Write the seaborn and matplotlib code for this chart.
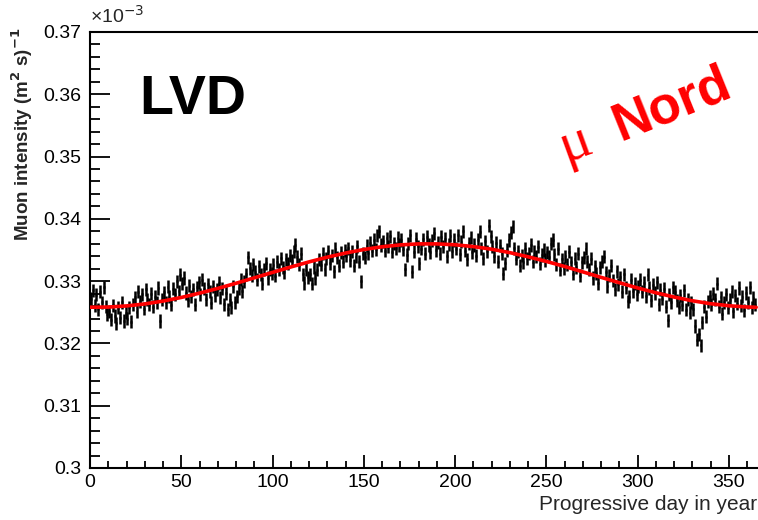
import numpy as np
import pandas as pd
import matplotlib
matplotlib.use("Agg")
import matplotlib.pyplot as plt
from matplotlib.ticker import MultipleLocator
import seaborn as sns

sns.set_theme(style="ticks")
plt.rcParams['font.family'] = ['Liberation Sans', 'DejaVu Sans']

# daily muon intensity, units of 1e-3 (m^2 s)^-1, days 1..365
intensity = [
    0.3272, 0.3285, 0.3261, 0.3278, 0.3255, 0.3283, 0.3266, 0.3290, 0.3259, 0.3247,
    0.3252, 0.3238, 0.3261, 0.3244, 0.3232, 0.3257, 0.3241, 0.3266, 0.3236, 0.3249,
    0.3240, 0.3258, 0.3235, 0.3262, 0.3274, 0.3251, 0.3283, 0.3268, 0.3279, 0.3256,
    0.3287, 0.3271, 0.3262, 0.3280, 0.3259, 0.3275, 0.3266, 0.3289, 0.3236, 0.3270,
    0.3282, 0.3266, 0.3291, 0.3275, 0.3262, 0.3288, 0.3279, 0.3300, 0.3284, 0.3310,
    0.3296, 0.3305, 0.3281, 0.3269, 0.3293, 0.3276, 0.3287, 0.3262, 0.3290, 0.3298,
    0.3279, 0.3302, 0.3288, 0.3271, 0.3295, 0.3284, 0.3265, 0.3291, 0.3277, 0.3286,
    0.3297, 0.3274, 0.3288, 0.3263, 0.3281, 0.3255, 0.3270, 0.3258, 0.3292, 0.3266,
    0.3276, 0.3289, 0.3302, 0.3284, 0.3299, 0.3311, 0.3338, 0.3321, 0.3309, 0.3327,
    0.3315, 0.3302, 0.3324, 0.3311, 0.3296, 0.3319, 0.3329, 0.3305, 0.3318, 0.3312,
    0.3326, 0.3309, 0.3331, 0.3318, 0.3337, 0.3322, 0.3314, 0.3335, 0.3328, 0.3341,
    0.3333, 0.3347, 0.3358, 0.3339, 0.3326, 0.3344, 0.3311, 0.3297, 0.3318, 0.3306,
    0.3311, 0.3296, 0.3322, 0.3305, 0.3318, 0.3335, 0.3326, 0.3344, 0.3319, 0.3337,
    0.3348, 0.3329, 0.3341, 0.3316, 0.3352, 0.3338, 0.3325, 0.3346, 0.3331, 0.3349,
    0.3341, 0.3353, 0.3334, 0.3347, 0.3325, 0.3339, 0.3356, 0.3331, 0.3300, 0.3344,
    0.3338, 0.3357, 0.3345, 0.3362, 0.3349, 0.3366, 0.3351, 0.3374, 0.3380, 0.3358,
    0.3364, 0.3349, 0.3369, 0.3355, 0.3372, 0.3347, 0.3361, 0.3353, 0.3370, 0.3358,
    0.3366, 0.3351, 0.3319, 0.3342, 0.3360, 0.3374, 0.3315, 0.3347, 0.3368, 0.3356,
    0.3329, 0.3352, 0.3367, 0.3344, 0.3371, 0.3358, 0.3346, 0.3365, 0.3377, 0.3350,
    0.3362, 0.3344, 0.3371, 0.3355, 0.3368, 0.3340, 0.3359, 0.3373, 0.3348, 0.3366,
    0.3352, 0.3374, 0.3343, 0.3363, 0.3380, 0.3349, 0.3335, 0.3361, 0.3370, 0.3346,
    0.3358, 0.3341, 0.3366, 0.3379, 0.3352, 0.3337, 0.3364, 0.3348, 0.3389, 0.3372,
    0.3355, 0.3340, 0.3362, 0.3331, 0.3357, 0.3344, 0.3312, 0.3329, 0.3350, 0.3366,
    0.3378, 0.3388, 0.3353, 0.3336, 0.3348, 0.3325, 0.3341, 0.3330, 0.3352, 0.3337,
    0.3344, 0.3358, 0.3331, 0.3347, 0.3339, 0.3355, 0.3328, 0.3342, 0.3350, 0.3334,
    0.3346, 0.3339, 0.3360, 0.3366, 0.3343, 0.3327, 0.3352, 0.3318, 0.3335, 0.3321,
    0.3340, 0.3326, 0.3347, 0.3330, 0.3312, 0.3336, 0.3322, 0.3344, 0.3309, 0.3330,
    0.3338, 0.3352, 0.3331, 0.3318, 0.3336, 0.3305, 0.3324, 0.3313, 0.3297, 0.3322,
    0.3331, 0.3339, 0.3314, 0.3292, 0.3309, 0.3325, 0.3301, 0.3287, 0.3316, 0.3295,
    0.3306, 0.3283, 0.3311, 0.3290, 0.3268, 0.3275, 0.3302, 0.3284, 0.3296, 0.3279,
    0.3291, 0.3302, 0.3283, 0.3297, 0.3276, 0.3310, 0.3289, 0.3269, 0.3294, 0.3281,
    0.3298, 0.3263, 0.3286, 0.3272, 0.3288, 0.3259, 0.3237, 0.3279, 0.3266, 0.3290,
    0.3283, 0.3269, 0.3258, 0.3277, 0.3262, 0.3285, 0.3254, 0.3271, 0.3249, 0.3266,
    0.3255, 0.3228, 0.3206, 0.3215, 0.3197, 0.3234, 0.3259, 0.3243, 0.3268, 0.3276,
    0.3262, 0.3280, 0.3271, 0.3296, 0.3259, 0.3274, 0.3248, 0.3266, 0.3279, 0.3257,
    0.3270, 0.3283, 0.3252, 0.3277, 0.3264, 0.3289, 0.3261, 0.3275, 0.3253, 0.3281,
    0.3266, 0.3290, 0.3258, 0.3273, 0.3262,
]
days = list(range(1, 366))
stat_err = 0.00105

# fitted seasonal curve
fit_day = [0, 10, 20, 30, 40, 50, 60, 70, 80, 90, 100, 110, 120, 130, 140, 150, 160, 170, 180,
           190, 200, 210, 220, 230, 240, 250, 260, 270, 280, 290, 300, 310, 320, 330, 340, 350, 360, 365]
fit_value = [0.32581, 0.32584, 0.32602, 0.32634, 0.32680, 0.32738, 0.32807, 0.32883, 0.32966,
             0.33053, 0.33140, 0.33227, 0.33309, 0.33385, 0.33451, 0.33508, 0.33552, 0.33582,
             0.33598, 0.33598, 0.33584, 0.33555, 0.33513, 0.33458, 0.33391, 0.33317, 0.33236,
             0.33149, 0.33061, 0.32975, 0.32891, 0.32814, 0.32745, 0.32685, 0.32638, 0.32605,
             0.32585, 0.32580]

ytick_labels = ["0.3", "0.31", "0.32", "0.33", "0.34", "0.35", "0.36", "0.37"]

df = pd.DataFrame({"day": days, "value": intensity})
df["center"] = df["day"] - 0.5
fit_df = pd.DataFrame({"day": fit_day, "value": fit_value})

fig = plt.figure(figsize=(7.58, 5.2), dpi=100)
ax = fig.add_axes([90 / 758, 52 / 520, 668 / 758, 436 / 520])

ax.errorbar(df["center"], df["value"], yerr=stat_err, xerr=0.5, fmt="none",
            ecolor="black", elinewidth=1.8, capsize=0, zorder=2)
sns.lineplot(data=fit_df, x="day", y="value", color="red", linewidth=2.6, ax=ax, zorder=3)

ax.set_xlim(0, 366)
ax.set_ylim(0.30, 0.37)
ax.xaxis.set_major_locator(MultipleLocator(50))
ax.xaxis.set_minor_locator(MultipleLocator(10))
ax.set_yticks([0.30, 0.31, 0.32, 0.33, 0.34, 0.35, 0.36, 0.37])
ax.set_yticklabels(ytick_labels)
ax.yaxis.set_minor_locator(MultipleLocator(0.002))
ax.tick_params(axis="both", which="both", direction="in", colors="black",
               labelsize=14, width=1.3, top=False, right=False)
ax.tick_params(axis="y", which="major", length=14.5, pad=6)
ax.tick_params(axis="y", which="minor", length=7)
ax.tick_params(axis="x", which="major", length=9.5, pad=4)
ax.tick_params(axis="x", which="minor", length=4.8)
for side in ["left", "bottom", "top"]:
    ax.spines[side].set_linewidth(1.5)
    ax.spines[side].set_color("black")
ax.spines["right"].set_visible(False)
ax.set_xlabel("")
ax.set_ylabel("")

fig.text(757 / 758, 1 - 505 / 520, "Progressive day in year", ha="right", va="center", fontsize=15)
fig.text(22 / 758, 1 - 27 / 520, "Muon intensity (m$^{\\mathbf{2}}$ s)$^{\\mathbf{-1}}$",
         rotation=90, ha="center", va="top", fontsize=13.5, fontweight="bold")
fig.text(90 / 758, 1 - 16 / 520, "\u00d710$^{-3}$", ha="left", va="center", fontsize=14)

fig.text(139 / 758, 1 - 100 / 520, "LVD", ha="left", va="center",
         fontsize=40, fontweight="bold", color="black")
fig.text(575 / 758, 1 - 143 / 520, "\u03bc", family=["Liberation Serif", "DejaVu Serif"],
         rotation=20, ha="center", va="center", fontsize=42, color="red")
fig.text(672 / 758, 1 - 105 / 520, "Nord", rotation=22, rotation_mode="anchor",
         ha="center", va="center", fontsize=38, fontweight="bold", color="red")

fig.savefig("out.png", dpi=100, facecolor="white")
